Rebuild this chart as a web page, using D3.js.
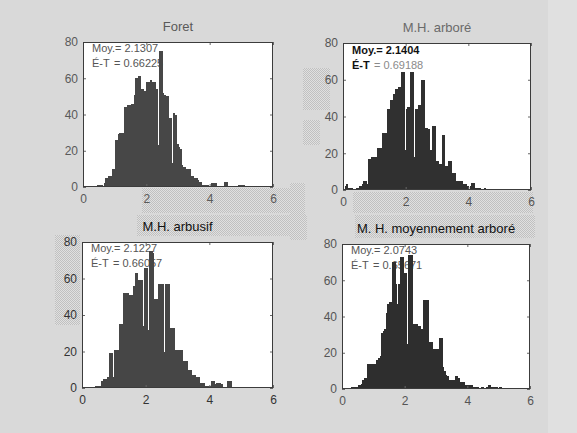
<!DOCTYPE html>
<html>
<head>
<meta charset="utf-8">
<script src="https://cdn.jsdelivr.net/npm/d3@7"></script>
<style>
  html, body { margin: 0; padding: 0; background: #d9d9d9; }
  svg { display: block; }
  text { font-family: "Liberation Sans", Arial, sans-serif; }
</style>
</head>
<body>
<svg id="fig" width="577" height="433"></svg>
<script>
// Histogram bins: width 0.05, starting at 0 (one row = 0.5 units)
const binWidth = 0.05;

const foret = [
  0, 0, 0, 0, 0, 0, 0, 0, 0, 1,
  1, 1, 0, 2, 5, 5, 6, 6, 10, 10,
  26, 26, 29, 30, 30, 30, 44, 44, 45, 45,
  46, 46, 51, 60, 60, 61, 54, 54, 53, 53,
  58, 58, 59, 58, 58, 58, 54, 23, 75, 75,
  52, 51, 50, 50, 38, 38, 13, 41, 40, 24,
  22, 21, 12, 11, 11, 10, 10, 10, 6, 6,
  5, 5, 4, 3, 3, 1, 1, 1, 1, 0,
  0, 2, 2, 2, 0, 0, 0, 0, 0, 3,
  3, 0, 0, 0, 0, 0, 0, 0, 1, 1,
  1, 1, 0, 0, 0, 0, 0, 0, 0, 0
];

const mhArbore = [
  0, 2, 3, 1, 1, 1, 0, 0, 1, 1,
  2, 2, 3, 5, 5, 3, 17, 17, 18, 18,
  18, 18, 23, 23, 23, 31, 31, 31, 44, 44,
  49, 49, 52, 55, 55, 56, 56, 64, 64, 22,
  44, 45, 45, 64, 64, 18, 44, 44, 46, 46,
  60, 60, 34, 34, 33, 22, 22, 35, 35, 16,
  16, 14, 14, 30, 30, 13, 13, 16, 16, 9,
  9, 9, 5, 5, 5, 5, 3, 3, 3, 2,
  0, 2, 4, 4, 1, 1, 1, 1, 0, 0,
  1, 0, 0, 0, 0, 0, 0, 0, 0, 0,
  0, 0, 0, 0, 0, 0, 0, 0, 0, 0
];

const mhArbusif = [
  0, 0, 0, 0, 0, 0, 0, 0, 1, 1,
  1, 1, 4, 5, 5, 5, 6, 19, 19, 6,
  21, 21, 21, 35, 35, 35, 52, 52, 52, 51,
  51, 51, 56, 63, 63, 59, 59, 59, 34, 66,
  66, 32, 75, 75, 74, 49, 49, 49, 57, 57,
  57, 20, 57, 57, 57, 33, 33, 33, 21, 21,
  21, 21, 21, 15, 15, 15, 10, 10, 10, 7,
  7, 6, 6, 6, 3, 3, 3, 1, 1, 1,
  1, 4, 4, 2, 3, 3, 3, 2, 0, 0,
  0, 4, 4, 4, 0, 0, 0, 0, 0, 0,
  0, 0, 0, 0, 0, 0, 0, 0, 0, 0
];

const mhMoyArbore = [
  0, 0, 0, 0, 0, 0, 1, 1, 1, 1,
  2, 2, 3, 5, 6, 6, 14, 14, 14, 14,
  14, 14, 16, 17, 18, 31, 32, 33, 42, 47,
  48, 48, 70, 70, 58, 47, 58, 73, 73, 64,
  64, 25, 74, 74, 74, 36, 36, 36, 35, 35,
  33, 33, 49, 49, 49, 26, 26, 26, 22, 22,
  22, 22, 28, 28, 12, 10, 8, 7, 5, 5,
  5, 5, 7, 7, 6, 4, 4, 4, 2, 2,
  2, 2, 2, 1, 1, 1, 1, 0, 0, 1,
  0, 0, 1, 2, 2, 1, 1, 1, 1, 0,
  1, 1, 0, 0, 0, 0, 0, 0, 0, 0
];

const titles = ["Foret", "M.H. arboré", "M.H. arbusif", "M. H. moyennement arboré"];
const means = ["2.1307", "2.1404", "2.1227", "2.0743"];
const stdDevs = ["0.66225", "0.69188", "0.66057", "0.65671"];
const xTicks = [0, 2, 4, 6];
const yTicks = [0, 20, 40, 60, 80];
const xDomain = [0, 6];
const yDomain = [0, 80];

const svg = d3.select("#fig");

// halftone texture used for the shaded strips of the page
const defs = svg.append("defs");
const pat = defs.append("pattern").attr("id", "dither")
  .attr("width", 2).attr("height", 2).attr("patternUnits", "userSpaceOnUse");
pat.append("rect").attr("width", 2).attr("height", 2).attr("fill", "#e0e0e0");
pat.append("rect").attr("width", 1).attr("height", 1).attr("fill", "#c0c0c0");
pat.append("rect").attr("x", 1).attr("y", 1).attr("width", 1).attr("height", 1).attr("fill", "#c0c0c0");

svg.append("rect").attr("width", 577).attr("height", 433).attr("fill", "#d9d9d9");
svg.append("rect").attr("x", 548).attr("width", 29).attr("height", 433).attr("fill", "#e0e0e0");

const strips = [
  [142, 188, 160, 25], [303, 68, 27, 42], [303, 120, 17, 25], [290, 183, 15, 32],
  [353, 192, 180, 21], [137, 215, 153, 21], [55, 235, 25, 90], [355, 215, 180, 23],
  [290, 215, 17, 25]
];
svg.append("g").selectAll("rect").data(strips).join("rect")
  .attr("x", d => d[0]).attr("y", d => d[1])
  .attr("width", d => d[2]).attr("height", d => d[3])
  .attr("fill", "url(#dither)");

const panels = [
  { counts: foret, box: [83, 42, 273, 187], bar: "#474747", titleFill: "#5a5a5a", titleWeight: "normal", tickFill: "#5a5a5a", note: "plain" },
  { counts: mhArbore, box: [343, 43, 531, 190], bar: "#303030", titleFill: "#6a6a6a", titleWeight: "normal", tickFill: "#555", note: "bold" },
  { counts: mhArbusif, box: [82, 242, 273, 388], bar: "#464646", titleFill: "#111", titleWeight: "normal", tickFill: "#333", note: "plain" },
  { counts: mhMoyArbore, box: [342, 244, 530, 389], bar: "#2e2e2e", titleFill: "#111", titleWeight: "normal", tickFill: "#555", note: "plain" }
];

panels.forEach((p, k) => {
  const [x0, y0, x1, y1] = p.box;
  const x = d3.scaleLinear().domain(xDomain).range([x0, x1]);
  const y = d3.scaleLinear().domain(yDomain).range([y1, y0]);
  const g = svg.append("g");

  // plot area
  g.append("rect").attr("x", x0).attr("y", y0)
    .attr("width", x1 - x0).attr("height", y1 - y0).attr("fill", "#fff");

  // title
  g.append("text").attr("x", (x0 + x1) / 2).attr("y", y0 - 11)
    .attr("text-anchor", "middle").attr("font-size", 13)
    .attr("font-weight", p.titleWeight).attr("fill", p.titleFill)
    .text(titles[k]);

  // statistics notes (drawn beneath the bars)
  const notes = g.append("g").attr("font-size", 11);
  if (p.note === "bold") {
    notes.append("text").attr("x", x0 + 9).attr("y", y0 + 11)
      .attr("font-weight", "bold").attr("fill", "#111").text("Moy.= " + means[k]);
    notes.append("text").attr("x", x0 + 9).attr("y", y0 + 26)
      .attr("font-weight", "bold").attr("fill", "#111").text("É-T");
    notes.append("text").attr("x", x0 + 31).attr("y", y0 + 26)
      .attr("fill", "#8a8a8a").text("= " + stdDevs[k]);
  } else {
    notes.append("text").attr("x", x0 + 9).attr("y", y0 + 10)
      .attr("fill", "#555").text("Moy.= " + means[k]);
    notes.append("text").attr("x", x0 + 9).attr("y", y0 + 25)
      .attr("fill", "#555").text("É-T");
    notes.append("text").attr("x", x0 + 31).attr("y", y0 + 25)
      .attr("fill", "#555").text("= " + stdDevs[k]);
  }

  // histogram bars, snapped to the pixel grid so adjacent bins join without seams
  const bins = p.counts.map((c, i) => ({ lo: i * binWidth, hi: (i + 1) * binWidth, c }))
    .filter(b => b.c > 0);
  g.append("g").attr("shape-rendering", "crispEdges")
    .selectAll("rect").data(bins).join("rect")
    .attr("x", b => x(b.lo))
    .attr("width", b => x(b.hi) - x(b.lo) + 0.5)
    .attr("y", b => y(b.c))
    .attr("height", b => y(0) - y(b.c))
    .attr("fill", p.bar);

  // axes: inward ticks on all four sides, labels on left and bottom
  const tickLen = 3;
  const axisG = g.append("g");
  const bottom = d3.axisBottom(x).tickValues(xTicks).tickFormat(d3.format("d"))
    .tickSizeInner(-tickLen).tickSizeOuter(0).tickPadding(7);
  const left = d3.axisLeft(y).tickValues(yTicks).tickFormat(d3.format("d"))
    .tickSizeInner(-tickLen).tickSizeOuter(0).tickPadding(5);
  const top = d3.axisTop(x).tickValues(xTicks).tickSizeInner(-tickLen).tickSizeOuter(0).tickFormat("");
  const right = d3.axisRight(y).tickValues(yTicks).tickSizeInner(-tickLen).tickSizeOuter(0).tickFormat("");

  const styleAxis = sel => {
    sel.select(".domain").remove();
    sel.selectAll(".tick line").attr("stroke", "#666");
    sel.selectAll(".tick text").attr("fill", p.tickFill)
      .attr("font-size", 12).attr("font-family", "\"Liberation Sans\", Arial, sans-serif");
  };
  axisG.append("g").attr("transform", `translate(0,${y1})`).call(bottom).call(styleAxis);
  axisG.append("g").attr("transform", `translate(${x0},0)`).call(left).call(styleAxis);
  axisG.append("g").attr("transform", `translate(0,${y0})`).call(top).call(styleAxis);
  axisG.append("g").attr("transform", `translate(${x1},0)`).call(right).call(styleAxis);

  // frame
  g.append("rect").attr("x", x0 + 0.5).attr("y", y0 + 0.5)
    .attr("width", x1 - x0 - 1).attr("height", y1 - y0 - 1)
    .attr("fill", "none").attr("stroke", "#3c3c3c").attr("stroke-width", 1);
});
</script>
</body>
</html>
